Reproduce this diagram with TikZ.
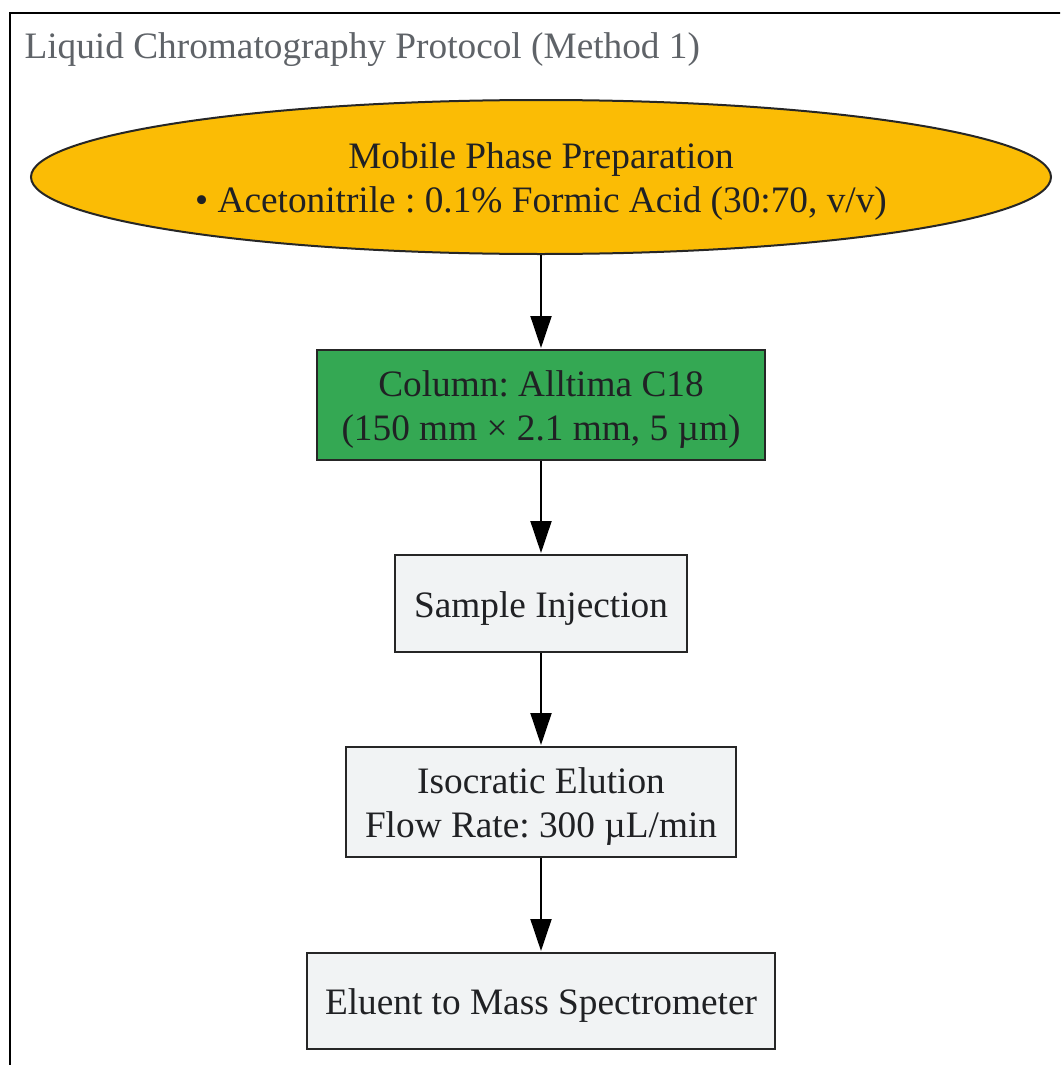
\documentclass[tikz,border=0pt]{standalone}
\usepackage{fontspec}
\setmainfont{Liberation Serif}
\frenchspacing
\usetikzlibrary{shapes.geometric,arrows.meta}
\definecolor{txtc}{HTML}{202124}
\definecolor{titlec}{HTML}{5F6368}
\definecolor{yel}{HTML}{FBBC05}
\definecolor{grn}{HTML}{34A853}
\definecolor{lgray}{HTML}{F1F3F4}
\definecolor{edgec}{HTML}{262626}
\tikzset{
  every node/.style={font=\fontsize{37.3}{44}\selectfont, text=txtc},
  procbox/.style={draw=edgec, line width=2pt, fill=lgray, rectangle, inner sep=0pt},
  boxtext/.style={align=center, inner sep=0pt},
  flowarrow/.style={line width=2pt, draw=black, -{Triangle[length=32pt,width=21pt]}, shorten >=1pt},
}
\begin{document}
\begin{tikzpicture}[x=1pt,y=-1pt]
\useasboundingbox (0,0) rectangle (1060,1065);
\clip (0,0) rectangle (1060,1065);
\fill[white] (0,0) rectangle (1060,1065);
\draw[line width=2.5pt, black] (10,1100) -- (10,13) -- (1100,13);
\node[anchor=base west, text=titlec] (title) at (21,59) {Liquid Chromatography Protocol (Method 1)};
\node[ellipse, draw=edgec, line width=2pt, fill=yel, minimum width=1020pt, minimum height=154pt, inner sep=0pt] (mp) at (541,177) {};
\node[procbox, fill=grn, minimum width=448pt, minimum height=110pt] (col) at (541,405) {};
\node[procbox, minimum width=292pt, minimum height=97pt] (inj) at (541,603.5) {};
\node[procbox, minimum width=390pt, minimum height=110pt] (elu) at (541,802) {};
\node[procbox, minimum width=468pt, minimum height=96pt] (ms) at (541,1001) {};
\node[boxtext] (mpt) at (541,182) {Mobile Phase Preparation\\• Acetonitrile : 0.1\% Formic Acid (30:70, v/v)};
\node[boxtext] (colt) at (541,410) {Column: Alltima C18\\(150 mm × 2.1 mm, 5 µm)};
\node[boxtext] (injt) at (541,608.5) {Sample Injection};
\node[boxtext] (elut) at (541,807) {Isocratic Elution\\Flow Rate: 300 µL/min};
\node[boxtext] (mst) at (541,1006) {Eluent to Mass Spectrometer};
\draw[flowarrow] (mp) -- (col);
\draw[flowarrow] (col) -- (inj);
\draw[flowarrow] (inj) -- (elu);
\draw[flowarrow] (elu) -- (ms);
\end{tikzpicture}
\end{document}
